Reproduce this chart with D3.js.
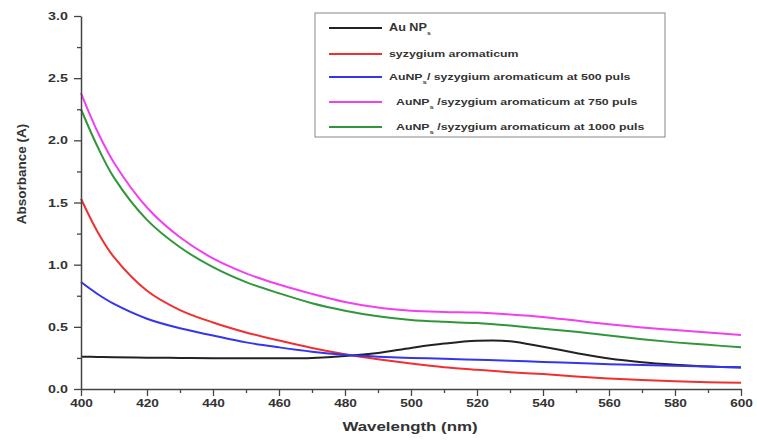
<!DOCTYPE html>
<html>
<head>
<meta charset="utf-8">
<script src="https://cdn.jsdelivr.net/npm/d3@7"></script>
<style>
  body { margin: 0; background: #fff; }
  svg { display: block; font-family: "Liberation Sans", Arial, sans-serif; }
</style>
</head>
<body>
<div id="chart"></div>
<script>
// wavelength (nm) and absorbance
const wavelengths = [400, 405, 410, 420, 430, 440, 450, 460, 470, 480, 490, 500, 510, 520, 530, 540, 550, 560, 570, 580, 590, 600];
const auNPs   = [0.26, 0.258, 0.255, 0.252, 0.25, 0.248, 0.247, 0.247, 0.25, 0.265, 0.29, 0.33, 0.365, 0.388, 0.385, 0.34, 0.29, 0.245, 0.215, 0.195, 0.18, 0.172];
const syzygium = [1.53, 1.265, 1.06, 0.79, 0.635, 0.535, 0.455, 0.39, 0.33, 0.28, 0.24, 0.205, 0.175, 0.155, 0.135, 0.12, 0.10, 0.085, 0.072, 0.062, 0.055, 0.05];
const au500   = [0.86, 0.764, 0.684, 0.565, 0.488, 0.43, 0.375, 0.335, 0.30, 0.275, 0.26, 0.25, 0.243, 0.235, 0.227, 0.218, 0.21, 0.20, 0.193, 0.186, 0.18, 0.175];
const au750   = [2.38, 2.07, 1.82, 1.46, 1.22, 1.05, 0.93, 0.84, 0.765, 0.70, 0.655, 0.63, 0.62, 0.615, 0.60, 0.58, 0.55, 0.52, 0.495, 0.475, 0.455, 0.435];
const au1000  = [2.25, 1.95, 1.70, 1.36, 1.14, 0.98, 0.86, 0.77, 0.69, 0.63, 0.585, 0.555, 0.54, 0.53, 0.51, 0.485, 0.46, 0.43, 0.40, 0.375, 0.355, 0.335];

const xTicks = [400, 420, 440, 460, 480, 500, 520, 540, 560, 580, 600];
const yTicks = [0, 0.5, 1.0, 1.5, 2.0, 2.5, 3.0];

const series = [
  { pre: "Au NP", sub: "s", post: "", values: auNPs, color: "#222222" },
  { pre: "", sub: "", post: "syzygium aromaticum", values: syzygium, color: "#f03030" },
  { pre: "AuNP", sub: "s", post: "/ syzygium aromaticum at 500 puls", values: au500, color: "#3535ee" },
  { pre: "AuNP", sub: "s", post: " /syzygium aromaticum at 750 puls", values: au750, color: "#f040f0" },
  { pre: "AuNP", sub: "s", post: " /syzygium aromaticum at 1000 puls", values: au1000, color: "#30963a" }
];

const width = 757, height = 441;
const stretch = 1.3; // text in the picture is drawn wider than tall

const svg = d3.select("#chart").append("svg")
  .attr("width", width)
  .attr("height", height);

// scales
const x = d3.scaleLinear().domain([400, 600]).range([81, 741]);
const y = d3.scaleLinear().domain([0, 3]).range([389, 16]);

// lines
const line = d3.line()
  .x((d, i) => x(wavelengths[i]))
  .y(d => y(d))
  .curve(d3.curveCatmullRom.alpha(0.5));

series.forEach(s => {
  svg.append("path")
    .datum(s.values)
    .attr("d", line)
    .style("fill", "none")
    .style("stroke", s.color)
    .style("stroke-width", 2);
});

// minor ticks
svg.append("g")
  .attr("transform", "translate(0,389)")
  .call(d3.axisBottom(x).tickValues(d3.range(410, 600, 20)).tickSize(4).tickFormat(""))
  .call(g => g.select(".domain").remove())
  .selectAll("line").attr("stroke", "#444").attr("stroke-width", 1.3);

svg.append("g")
  .attr("transform", "translate(81,0)")
  .call(d3.axisLeft(y).tickValues(d3.range(0.25, 3, 0.5)).tickSize(4).tickFormat(""))
  .call(g => g.select(".domain").remove())
  .selectAll("line").attr("stroke", "#444").attr("stroke-width", 1.3);

// x axis
const xAxis = svg.append("g")
  .attr("transform", "translate(0,389)")
  .call(d3.axisBottom(x).tickValues(xTicks).tickSize(7).tickSizeOuter(0).tickPadding(4));
xAxis.select(".domain").attr("stroke", "#444").attr("stroke-width", 1.5);
xAxis.selectAll("line").attr("stroke", "#444").attr("stroke-width", 1.3);
xAxis.selectAll("text")
  .attr("transform", `scale(${stretch},1)`)
  .style("font-size", "10.5px")
  .style("font-weight", "bold")
  .attr("fill", "#333");

// y axis
const yAxis = svg.append("g")
  .attr("transform", "translate(81,0)")
  .call(d3.axisLeft(y).tickValues(yTicks).tickSize(7).tickSizeOuter(0).tickPadding(6).tickFormat(d3.format(".1f")));
yAxis.select(".domain").attr("stroke", "#444").attr("stroke-width", 1.5);
yAxis.selectAll("line").attr("stroke", "#444").attr("stroke-width", 1.3);
yAxis.selectAll("text")
  .attr("x", -13 / stretch)
  .attr("transform", `scale(${stretch},1)`)
  .style("font-size", "11px")
  .style("font-weight", "bold")
  .attr("fill", "#333");

// axis titles
svg.append("text")
  .attr("transform", "translate(410,431) scale(1.25,1)")
  .attr("text-anchor", "middle")
  .style("font-size", "13.5px")
  .style("font-weight", "bold")
  .attr("fill", "#333")
  .text("Wavelength (nm)");

svg.append("text")
  .attr("transform", "translate(26,174)rotate(-90)")
  .attr("text-anchor", "middle")
  .style("font-size", "13.5px")
  .style("font-weight", "bold")
  .attr("fill", "#333")
  .text("Absorbance (A)");

// legend
const legend = svg.append("g");
legend.append("rect")
  .attr("x", 315).attr("y", 13)
  .attr("width", 350).attr("height", 124)
  .attr("fill", "#fff")
  .attr("stroke", "#888")
  .attr("stroke-width", 1);

const legendY = [28, 54, 77, 102, 127];
const textX = [389, 389, 389, 396, 396];
series.forEach((s, i) => {
  legend.append("line")
    .attr("x1", 329).attr("x2", 382)
    .attr("y1", legendY[i]).attr("y2", legendY[i])
    .attr("stroke", s.color)
    .attr("stroke-width", 2);
  const t = legend.append("text")
    .attr("transform", `translate(${textX[i]},${legendY[i] + 3}) scale(${i == 0 ? 1.15 : 1.3},1)`)
    .style("font-size", i == 0 ? "11px" : "9.5px")
    .style("font-weight", "bold")
    .attr("fill", "#333");
  if (s.pre) t.append("tspan").text(s.pre);
  if (s.sub) t.append("tspan").attr("dy", 4).style("font-size", "6px").text(s.sub);
  t.append("tspan").attr("dy", s.sub ? -4 : 0).text(s.post);
});
</script>
</body>
</html>
